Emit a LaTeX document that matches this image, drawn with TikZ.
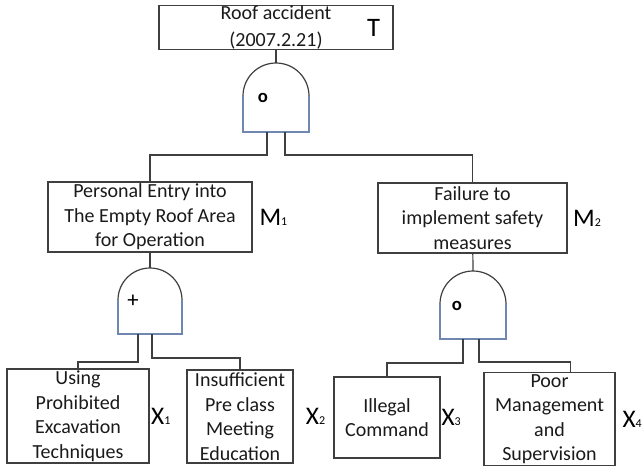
\documentclass[tikz,border=0pt]{standalone}
\usepackage{fontspec}
\setmainfont{Carlito}
\usetikzlibrary{positioning}

\definecolor{linegray}{HTML}{3F3F3F}
\definecolor{gateblue}{HTML}{7088B0}
\definecolor{textgray}{HTML}{1A1A1A}

\newcommand{\sub}[1]{{\fontsize{9}{9}\selectfont #1}}

\begin{document}
\begin{tikzpicture}[x=0.75pt,y=-0.75pt,
  event/.style={draw=linegray,line width=0.9pt,align=center,inner sep=0pt,
    text=textgray,font=\fontsize{15}{18.4}\selectfont},
  tag/.style={inner sep=0pt,text=black,font=\fontsize{19}{19}\selectfont},
  link/.style={draw=linegray,line width=0.9pt},
  gatetop/.style={draw=linegray,line width=0.9pt},
  gatebody/.style={draw=gateblue,line width=0.9pt},
  sym/.style={inner sep=0pt,text=black,font=\bfseries\fontsize{14}{14}\selectfont}]

\useasboundingbox (0,0) rectangle (644,468);

% events
\node[event,minimum width=175.5pt,minimum height=32.25pt,
  font=\fontsize{15}{20}\selectfont] (top) at (276,27.5)
  {Roof accident\\(2007.2.21)};
\node[event,minimum width=153pt,minimum height=52.5pt] (m1) at (150,217)
  {Personal Entry into\\The Empty Roof Area\\for Operation};
\node[event,minimum width=141.75pt,minimum height=52.5pt] (m2) at (472.5,218)
  {Failure to\\implement safety\\measures};
\node[event,minimum width=106.5pt,minimum height=70.5pt] (x1) at (78,416)
  {Using\\Prohibited\\Excavation\\Techniques};
\node[event,minimum width=79.5pt,minimum height=69.75pt] (x2) at (240,416.5)
  {Insufficient\\Pre class\\Meeting\\Education};
\node[event,minimum width=79.5pt,minimum height=60.75pt] (x3) at (387,417.5)
  {Illegal\\Command};
\node[event,minimum width=98.25pt,minimum height=69.75pt] (x4) at (549.5,419)
  {Poor\\Management\\and\\Supervision};

% labels
\node[tag,font=\fontsize{20}{20}\selectfont,left=10pt of top.east] (lt) {T};
\node[tag,right=5pt of m1] (lm1) {M\sub{1}};
\node[tag,right=4pt of m2] (lm2) {M\sub{2}};
\node[tag,right=1pt of x1] (lx1) {X\sub{1}};
\node[tag,right=9pt of x2] (lx2) {X\sub{2}};
\node[tag,right=0.5pt of x3] (lx3) {X\sub{3}};
\node[tag,right=5pt of x4] (lx4) {X\sub{4}};

% gate under T (and)
\coordinate (g1) at (276,63);
\coordinate (g1l) at (267,132);
\coordinate (g1r) at (285,132);
\draw[gatetop] (243,96) arc[start angle=180,end angle=360,radius=33];
\draw[gatebody] (243,96) -- (243,132) -- (309,132) -- (309,96);
\node[sym] (s1) at (263,98) {o};

% gate under M1 (or)
\coordinate (g2) at (150,268);
\coordinate (g2l) at (138,334);
\coordinate (g2r) at (152,334);
\draw[gatetop] (118,300) arc[start angle=180,end angle=360,radius=32];
\draw[gatebody] (118,300) -- (118,334) -- (182,334) -- (182,300);
\node[sym,font=\fontsize{17}{17}\selectfont] (s2) at (133,301) {+};

% gate under M2 (and)
\coordinate (g3) at (473,271);
\coordinate (g3l) at (463,339);
\coordinate (g3r) at (479,339);
\draw[gatetop] (440,304) arc[start angle=180,end angle=360,radius=33];
\draw[gatebody] (440,304) -- (440,339) -- (506,339) -- (506,304);
\node[sym] (s3) at (457,306) {o};

% connectors
\draw[link] (top) -- (g1);
\draw[link] (g1l) -- ++(0,23) -| (m1.north);
\draw[link] (g1r) -- ++(0,23) -| (m2.north);
\draw[link] (m1) -- (g2);
\draw[link] (g2l) -- ++(0,28) -| (x1.north);
\draw[link] (g2r) -- ++(0,24) -| (x2.north);
\draw[link] (m2) -- (g3);
\draw[link] (g3l) -- ++(0,24) -| (x3.north);
\draw[link] (g3r) -- ++(0,23) -| ([xshift=16pt]x4.north);

\end{tikzpicture}
\end{document}
